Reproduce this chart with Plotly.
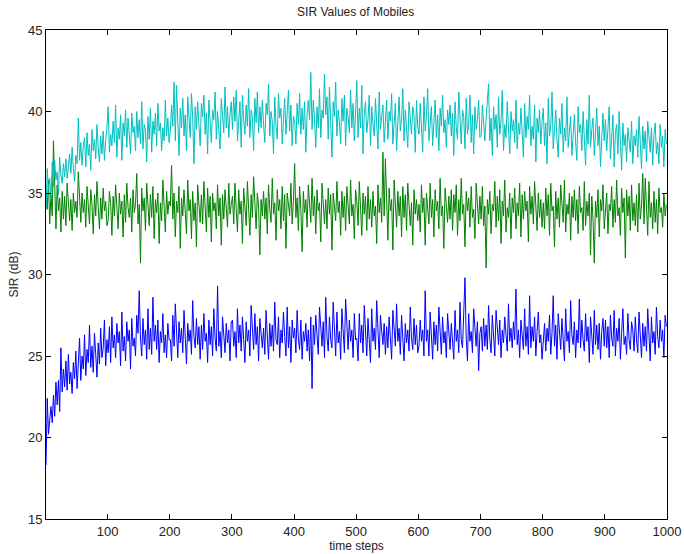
import plotly.graph_objects as go

steps = list(range(1, 1001, 2))

sir_cyan = [
    34.0, 36.5, 35.2, 35.9, 34.6, 36.9, 35.4, 37.0, 35.8, 36.3, 34.9, 37.2, 36.1, 35.6, 36.8, 36.0, 37.1, 35.9, 36.6, 37.4, 36.2, 37.8, 36.5, 35.7, 37.3,
    36.8, 39.6, 37.0, 38.1, 36.7, 37.9, 38.4, 36.6, 38.7, 37.3, 38.0, 36.4, 38.9, 37.6, 38.3, 37.1, 39.2, 37.8, 36.9, 38.5, 37.4, 38.8, 37.0, 38.2, 39.0,
    40.3, 37.5, 38.6, 37.9, 39.4, 38.1, 40.4, 37.2, 39.0, 38.3, 39.8, 37.0, 39.3, 38.5, 40.1, 37.8, 39.6, 38.2, 37.4, 39.9, 38.7, 39.1, 37.6, 40.0, 38.4,
    39.5, 38.0, 40.6, 37.7, 39.2, 38.9, 36.9, 39.7, 38.3, 40.2, 37.5, 39.4, 38.6, 39.9, 37.9, 40.5, 38.8, 39.3, 37.6, 39.0, 38.2, 40.7, 38.5, 39.6, 38.1,
    38.8, 40.4, 39.1, 41.8, 38.2, 41.6, 39.3, 37.3, 40.2, 39.0, 40.8, 38.5, 39.8, 37.6, 40.9, 39.3, 38.4, 41.1, 39.6, 36.8, 40.3, 38.9, 40.6, 39.2, 37.9,
    40.5, 39.7, 41.0, 38.6, 39.9, 37.4, 40.7, 39.4, 38.1, 40.1, 39.5, 41.2, 38.3, 40.0, 39.1, 37.7, 40.8, 39.6, 38.7, 41.5, 39.0, 40.3, 38.4, 39.8, 40.6,
    38.9, 40.9, 39.4, 41.3, 38.2, 39.9, 40.6, 37.8, 41.0, 39.5, 38.6, 40.4, 39.1, 41.4, 38.4, 40.1, 39.7, 37.6, 40.8, 39.3, 41.2, 38.7, 40.3, 39.0, 40.7,
    39.2, 38.1, 40.5, 39.8, 41.7, 38.5, 40.0, 39.4, 37.4, 40.9, 39.1, 38.3, 41.1, 39.6, 40.2, 38.0, 39.5, 40.8, 38.6, 39.9, 41.3, 38.8, 40.4, 37.9, 39.7,
    39.4, 38.0, 40.5, 39.2, 41.1, 38.6, 40.2, 38.9, 40.6, 37.5, 39.8, 40.7, 39.5, 42.4, 38.9, 40.7, 39.5, 37.8, 40.3, 39.0, 41.4, 38.4, 40.1, 39.6, 42.3,
    39.8, 40.9, 38.3, 41.5, 39.1, 37.2, 40.6, 39.7, 41.8, 38.5, 40.1, 39.3, 38.0, 40.8, 39.4, 41.0, 37.9, 40.2, 39.6, 38.7, 41.3, 39.0, 40.5, 38.2, 39.9,
    41.9, 38.4, 40.2, 39.0, 41.6, 37.4, 39.8, 40.6, 38.7, 39.5, 41.0, 37.9, 40.3, 39.2, 38.5, 40.8, 39.6, 37.7, 41.2, 38.9, 39.7, 40.4, 38.1, 39.9, 40.7,
    38.3, 40.0, 39.4, 41.1, 38.0, 39.7, 40.5, 37.6, 39.2, 40.9, 38.8, 39.5, 41.4, 38.2, 40.1, 39.0, 37.8, 40.6, 39.3, 38.6, 40.3, 39.8, 37.5, 40.7, 39.1,
    38.6, 40.5, 39.3, 37.5, 40.9, 38.8, 39.7, 41.4, 38.2, 39.6, 40.3, 37.9, 39.0, 40.7, 38.4, 39.8, 37.6, 40.2, 39.1, 41.0, 38.7, 39.5, 37.8, 40.1, 39.2,
    40.4, 38.5, 39.9, 37.3, 40.6, 39.0, 38.3, 41.2, 39.4, 38.0, 40.1, 39.7, 37.7, 40.8, 38.6, 39.3, 41.0, 38.1, 39.8, 37.4, 40.3, 38.9, 39.5, 40.7, 38.4,
    38.5, 40.4, 39.0, 38.2, 39.6, 40.9, 41.7, 38.2, 39.6, 37.3, 40.3, 38.9, 39.8, 37.8, 40.9, 38.6, 39.4, 41.3, 37.6, 39.2, 38.4, 40.6, 39.0, 37.4, 40.0,
    38.8, 39.5, 38.1, 40.7, 37.7, 39.3, 38.6, 40.2, 39.0, 37.2, 40.5, 38.4, 39.7, 38.9, 41.0, 37.9, 39.1, 38.3, 40.4, 36.9, 39.6, 38.7, 40.1, 38.0, 39.4,
    40.2, 37.9, 39.3, 36.8, 40.8, 38.5, 39.1, 41.2, 37.7, 38.9, 40.1, 38.3, 37.2, 39.6, 38.6, 40.5, 37.5, 39.0, 38.2, 40.9, 37.8, 38.8, 39.7, 37.3, 38.6,
    39.8, 38.1, 37.0, 40.3, 38.7, 39.2, 37.6, 40.0, 38.4, 36.7, 39.5, 38.0, 41.0, 37.8, 38.9, 39.6, 37.3, 38.5, 40.2, 37.9, 39.1, 36.6, 38.8, 39.9, 38.2,
    39.5, 37.6, 38.9, 40.3, 37.1, 38.4, 39.8, 36.6, 38.7, 39.2, 37.4, 40.0, 38.1, 36.4, 39.3, 37.9, 38.6, 36.9, 39.0, 38.2, 37.5, 39.4, 36.8, 38.5, 37.9,
    38.9, 37.2, 39.7, 38.0, 36.5, 39.1, 37.7, 38.8, 36.9, 39.4, 38.3, 37.5, 39.0, 36.7, 38.6, 39.3, 37.4, 38.1, 36.8, 39.2, 37.8, 38.5, 36.6, 38.9, 38.0,
]

sir_green = [
    35.3, 34.0, 35.8, 33.1, 34.9, 33.6, 38.2, 34.4, 32.8, 35.5, 33.9, 34.7, 32.6, 35.1, 33.4, 34.8, 33.0, 35.6, 34.2, 33.3, 34.6, 32.7, 35.0, 33.8, 34.5,
    33.5, 36.3, 34.4, 33.2, 35.0, 33.8, 34.6, 32.9, 35.4, 34.0, 33.1, 35.2, 34.3, 32.5, 34.9, 33.6, 35.7, 34.1, 32.8, 34.7, 33.4, 35.3, 33.9, 34.5, 33.0,
    33.3, 35.1, 34.4, 32.4, 34.8, 33.6, 35.5, 34.0, 32.8, 35.0, 33.7, 34.5, 32.3, 34.9, 33.2, 35.6, 34.1, 33.5, 34.7, 32.6, 35.2, 33.8, 34.3, 36.2, 33.1,
    34.3, 30.7, 35.3, 33.9, 34.7, 32.7, 35.6, 34.1, 33.0, 34.9, 33.5, 35.4, 32.2, 34.6, 33.8, 35.0, 31.9, 34.4, 33.3, 35.8, 34.0, 32.6, 35.1, 33.7, 34.5,
    34.2, 36.7, 33.4, 35.0, 32.3, 34.5, 33.8, 35.4, 31.6, 34.7, 33.6, 35.2, 34.0, 32.5, 35.8, 33.9, 34.6, 32.2, 35.1, 33.3, 34.4, 31.7, 35.5, 34.1, 33.2,
    34.9, 33.1, 35.7, 34.2, 32.6, 35.3, 33.5, 34.8, 32.0, 35.0, 33.9, 34.4, 32.8, 35.5, 33.6, 34.7, 31.8, 34.9, 33.4, 35.2, 34.1, 32.9, 35.6, 33.7, 34.3,
    34.8, 33.1, 35.6, 34.0, 32.6, 35.2, 33.7, 34.5, 31.9, 35.3, 34.1, 33.0, 35.7, 34.3, 32.4, 34.9, 33.5, 36.0, 33.8, 32.8, 35.0, 34.2, 31.2, 34.6, 33.6,
    35.1, 33.4, 34.7, 32.5, 35.5, 34.0, 33.2, 35.9, 33.7, 34.4, 32.1, 35.2, 33.9, 34.6, 32.8, 35.4, 33.3, 34.9, 31.6, 35.0, 34.2, 33.6, 35.6, 33.1, 34.5,
    36.8, 33.5, 34.7, 32.7, 35.4, 34.0, 31.4, 35.1, 33.8, 34.6, 32.9, 35.5, 34.2, 33.2, 35.9, 33.6, 34.8, 32.5, 35.2, 33.9, 34.4, 32.0, 35.6, 34.3, 33.1,
    34.6, 32.8, 35.3, 33.7, 34.9, 31.5, 35.0, 34.1, 33.3, 35.7, 33.8, 34.5, 32.4, 35.1, 33.5, 34.8, 32.7, 35.4, 34.0, 33.1, 35.8, 33.6, 34.3, 32.2, 35.2,
    34.5, 33.0, 35.7, 34.1, 32.4, 35.0, 33.7, 34.8, 32.7, 35.4, 33.4, 34.6, 32.9, 35.1, 33.6, 34.2, 31.9, 35.5, 33.8, 34.7, 33.2, 37.5, 33.6, 37.1, 34.4,
    32.1, 35.3, 33.9, 34.6, 31.5, 35.8, 34.0, 32.9, 35.1, 33.6, 34.8, 32.3, 35.4, 33.5, 34.9, 32.7, 35.6, 34.1, 33.0, 34.4, 31.8, 35.2, 33.7, 34.6, 33.3,
    34.3, 32.6, 35.5, 33.8, 34.7, 31.8, 35.0, 34.0, 33.1, 35.6, 33.5, 34.6, 32.3, 35.2, 33.9, 34.5, 32.8, 35.9, 33.6, 34.2, 31.6, 35.3, 34.1, 33.2, 34.8,
    33.4, 35.2, 32.7, 34.9, 33.8, 35.5, 32.4, 34.6, 33.3, 35.9, 33.7, 34.3, 31.7, 35.1, 33.9, 34.7, 32.9, 35.4, 33.5, 34.0, 32.2, 35.6, 34.2, 33.1, 34.8,
    33.4, 35.4, 33.0, 34.2, 30.4, 34.6, 33.7, 35.1, 32.5, 34.3, 33.9, 35.7, 32.9, 34.8, 33.3, 35.2, 31.9, 34.5, 33.6, 35.8, 32.6, 34.1, 33.5, 35.0, 32.2,
    34.7, 33.8, 35.3, 32.8, 34.4, 33.6, 35.6, 32.3, 34.9, 33.4, 35.1, 33.9, 34.5, 32.0, 35.4, 33.7, 34.8, 33.1, 35.7, 34.2, 32.7, 35.0, 33.5, 34.6, 32.9,
    34.4, 32.8, 35.3, 33.6, 34.9, 32.4, 35.6, 33.9, 34.2, 31.7, 35.1, 33.4, 34.7, 32.9, 35.5, 34.0, 33.2, 35.8, 32.6, 34.3, 33.7, 35.0, 32.1, 34.8, 33.5,
    35.2, 33.3, 34.6, 32.5, 35.4, 33.8, 34.1, 32.7, 35.7, 33.0, 34.5, 33.6, 35.0, 31.2, 34.8, 33.4, 30.7, 34.5, 33.5, 35.2, 32.3, 34.6, 33.9, 35.5, 32.8,
    33.7, 35.0, 32.5, 34.3, 33.9, 35.4, 32.9, 34.6, 33.2, 35.8, 33.6, 34.1, 32.4, 35.3, 33.8, 34.7, 31.0, 35.2, 33.6, 34.8, 32.7, 35.5, 33.3, 34.4, 33.0,
    34.9, 32.6, 35.6, 33.4, 34.2, 36.2, 33.1, 35.9, 34.0, 32.4, 35.7, 33.5, 34.4, 32.8, 35.1, 33.2, 34.6, 32.5, 35.3, 33.8, 34.1, 32.9, 35.0, 33.6, 34.3,
]

sir_blue = [
    18.3, 22.4, 20.2, 21.0, 21.9, 20.9, 22.6, 21.3, 23.4, 22.0, 23.5, 21.6, 25.5, 22.8, 24.2, 23.1, 24.7, 22.9, 25.1, 23.3, 24.0, 22.7, 24.6, 23.6, 25.3,
    23.0, 24.6, 26.1, 23.5, 25.0, 24.2, 26.3, 23.8, 25.4, 24.6, 26.9, 24.3, 25.6, 24.0, 26.4, 25.1, 23.7, 25.8, 24.5, 26.7, 24.9, 25.5, 27.2, 24.4, 26.0,
    25.2, 26.8, 24.6, 27.4, 25.5, 26.3, 24.9, 27.0, 25.8, 26.5, 24.4, 27.7, 25.3, 26.2, 24.7, 27.1, 25.9, 26.6, 24.2, 27.3, 25.6, 26.1, 25.0, 27.5, 26.4,
    29.0, 26.1, 25.0, 27.3, 25.7, 26.6, 24.8, 27.9, 25.4, 26.7, 25.1, 28.6, 25.9, 26.9, 25.4, 27.2, 24.6, 26.5, 25.8, 27.6, 25.2, 26.3, 24.9, 27.0, 26.0,
    26.0, 24.7, 27.5, 25.6, 28.2, 26.3, 24.9, 27.1, 25.8, 26.7, 25.2, 27.8, 26.1, 24.5, 27.0, 25.9, 26.6, 25.1, 28.4, 26.2, 25.5, 27.3, 25.7, 26.8, 24.8,
    26.9, 25.4, 27.6, 25.9, 26.4, 24.6, 27.2, 25.7, 26.8, 25.0, 27.9, 26.1, 25.3, 29.3, 25.6, 26.5, 24.9, 27.4, 26.0, 25.2, 27.0, 25.8, 26.6, 24.7, 27.1,
    27.2, 25.6, 26.5, 24.9, 27.9, 25.8, 26.9, 25.3, 27.4, 26.0, 24.6, 27.1, 25.9, 26.6, 25.0, 28.1, 26.2, 25.4, 27.6, 25.7, 26.8, 24.7, 27.3, 26.1, 25.5,
    26.7, 25.1, 27.8, 26.3, 24.8, 27.0, 25.6, 26.9, 25.3, 28.3, 26.0, 25.7, 27.4, 24.9, 26.6, 25.8, 27.7, 26.2, 25.0, 28.0, 25.5, 26.8, 24.6, 27.2, 26.1,
    26.7, 25.2, 27.8, 26.0, 25.4, 27.2, 24.8, 26.5, 25.9, 27.0, 25.3, 26.6, 24.7, 27.4, 23.0, 26.9, 25.7, 27.5, 26.3, 25.1, 28.0, 26.4, 25.6, 27.1, 24.9,
    28.6, 26.2, 25.3, 27.4, 26.0, 25.5, 28.3, 26.4, 25.0, 27.7, 25.8, 26.5, 24.8, 27.9, 26.1, 25.2, 28.5, 26.7, 25.4, 27.2, 25.9, 26.6, 24.9, 27.6, 26.0,
    26.1, 24.7, 27.6, 25.8, 26.9, 25.2, 28.1, 26.4, 25.0, 27.3, 26.2, 24.6, 27.9, 25.9, 26.7, 25.4, 28.4, 26.0, 24.9, 27.5, 26.3, 25.7, 27.0, 25.1, 26.8,
    25.5, 27.4, 26.0, 24.8, 27.8, 26.3, 25.6, 28.2, 25.9, 26.7, 25.1, 27.5, 26.4, 24.7, 27.0, 25.8, 26.6, 25.3, 28.0, 26.1, 25.4, 27.3, 25.7, 26.9, 25.2,
    25.6, 27.2, 25.9, 26.6, 25.0, 29.0, 25.9, 26.6, 25.0, 27.7, 26.2, 24.8, 27.1, 25.7, 26.9, 25.3, 28.0, 26.4, 25.1, 27.4, 25.8, 26.5, 24.9, 27.6, 26.2,
    25.4, 27.0, 26.1, 24.8, 27.8, 25.9, 26.6, 25.2, 28.3, 26.0, 25.5, 27.3, 29.8, 26.1, 24.7, 27.6, 25.9, 26.5, 25.2, 27.9, 26.3, 25.6, 27.1, 24.1, 26.4,
    26.8, 25.3, 27.3, 25.6, 26.9, 25.4, 28.1, 26.0, 25.2, 27.5, 26.3, 25.0, 27.8, 26.5, 25.7, 27.2, 24.9, 26.6, 25.8, 27.4, 26.1, 25.3, 28.2, 25.9, 26.7,
    25.5, 27.1, 26.0, 29.1, 25.7, 26.6, 24.9, 27.2, 26.1, 25.4, 27.9, 25.6, 26.8, 25.1, 28.7, 25.5, 26.8, 25.9, 27.4, 25.0, 26.5, 27.7, 25.8, 26.3, 24.8,
    25.8, 27.0, 25.3, 26.7, 25.9, 27.5, 25.1, 26.4, 28.7, 25.6, 26.9, 24.8, 27.6, 26.2, 25.4, 27.3, 26.0, 24.7, 27.9, 25.9, 26.5, 25.2, 28.4, 26.3, 25.7,
    27.1, 24.9, 26.6, 25.8, 28.5, 25.5, 27.2, 26.0, 25.3, 27.6, 25.9, 26.8, 24.6, 27.4, 26.2, 25.1, 27.8, 25.7, 26.9, 25.4, 27.0, 24.8, 26.5, 27.3, 25.6,
    27.2, 25.5, 26.8, 24.9, 27.5, 26.1, 25.6, 27.8, 25.0, 26.7, 25.9, 27.3, 24.8, 26.4, 27.9, 25.7, 26.2, 25.1, 27.6, 26.0, 25.4, 27.1, 26.6, 25.3, 27.4,
    26.0, 25.2, 27.7, 26.3, 24.9, 27.0, 25.6, 26.8, 25.3, 27.9, 26.1, 24.7, 27.4, 25.8, 26.5, 25.1, 28.0, 26.2, 25.5, 27.2, 25.9, 26.6, 24.9, 27.5, 26.8,
]

x_ticks = [100, 200, 300, 400, 500, 600, 700, 800, 900, 1000]
y_ticks = [15, 20, 25, 30, 35, 40, 45]

fig = go.Figure()
for vals, col in [(sir_blue, "#0000FF"), (sir_green, "#008000"), (sir_cyan, "#00BFBF")]:
    fig.add_trace(go.Scatter(x=steps, y=vals, mode="lines",
                             line=dict(color=col, width=1), showlegend=False))

axis_common = dict(showline=True, linecolor="black", linewidth=1, mirror="ticks",
                   ticks="inside", ticklen=5, tickcolor="black", showgrid=False,
                   zeroline=False, automargin=False,
                   tickfont=dict(family="Liberation Sans, Arial", size=13, color="#222"))

fig.update_layout(
    width=684, height=554,
    margin=dict(l=46, r=17, t=30, b=35),
    paper_bgcolor="white", plot_bgcolor="white",
    font=dict(family="Liberation Sans, Arial", color="#222"),
    title=dict(text="SIR Values of Mobiles", x=0.52, xanchor="center", y=0.978, yanchor="middle",
               font=dict(size=12, color="#222")),
    xaxis=dict(range=[1, 1000], tickvals=x_ticks,
               title=dict(text="time steps", font=dict(size=12), standoff=4), **axis_common),
    yaxis=dict(range=[15, 45], tickvals=y_ticks,
               title=dict(text="SIR (dB)", font=dict(size=12), standoff=6), **axis_common),
)

fig.write_html("out.html", config={"displayModeBar": False},
               post_script="document.body.style.margin='0';document.body.style.overflow='hidden';")
